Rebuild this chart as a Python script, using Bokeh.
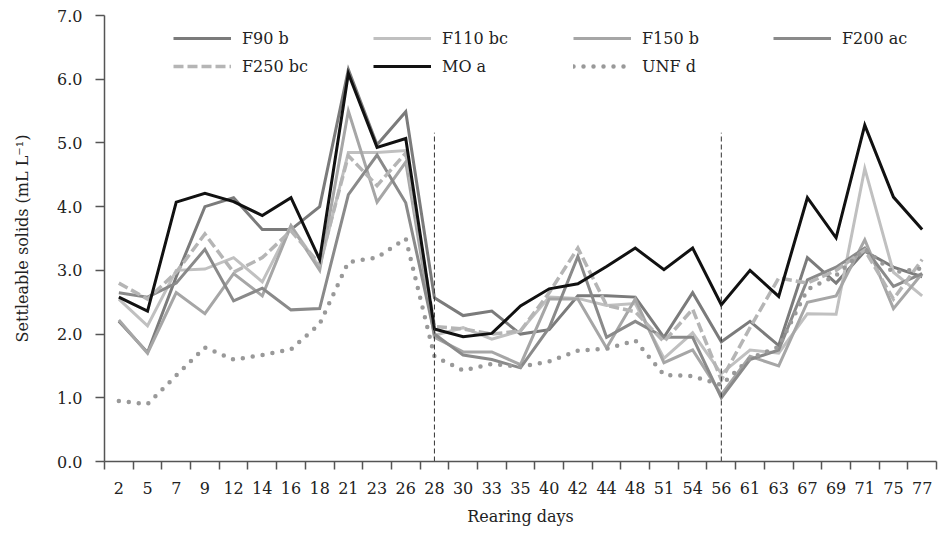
from bokeh.plotting import figure
from bokeh.models import (Range1d, FixedTicker, Legend, LegendItem,
                          CustomJSTickFormatter, NumeralTickFormatter)
from bokeh.embed import file_html
from bokeh.resources import INLINE

days = ["2", "5", "7", "9", "12", "14", "16", "18", "21", "23", "26", "28", "30", "33",
        "35", "40", "42", "44", "48", "51", "54", "56", "61", "63", "67", "69", "71", "75", "77"]

f90 = [2.20, 1.71, 2.90, 4.00, 4.14, 3.64, 3.64, 4.00, 6.15, 4.97, 5.49, 2.57, 2.29, 2.36,
       2.00, 2.07, 2.60, 2.60, 2.58, 1.95, 2.65, 1.88, 2.20, 1.82, 3.20, 2.80, 3.30, 3.05, 2.90]
f110 = [2.55, 2.13, 3.00, 3.02, 3.20, 2.82, 3.70, 3.05, 4.85, 4.85, 4.88, 1.98, 2.10, 1.92,
        2.05, 2.58, 2.56, 2.45, 2.48, 1.62, 2.02, 1.38, 1.75, 1.70, 2.32, 2.31, 4.60, 2.97, 2.60]
f150 = [2.22, 1.70, 2.65, 2.32, 2.95, 2.60, 3.70, 3.00, 5.50, 4.07, 4.70, 1.95, 1.72, 1.72,
        1.52, 2.55, 2.55, 1.78, 2.55, 1.55, 1.75, 1.05, 1.65, 1.50, 2.50, 2.60, 3.48, 2.40, 2.95]
f200 = [2.65, 2.58, 2.80, 3.33, 2.52, 2.72, 2.38, 2.40, 4.19, 4.81, 4.06, 2.00, 1.67, 1.60,
        1.47, 2.10, 3.22, 1.95, 2.20, 1.95, 1.95, 1.00, 1.60, 1.75, 2.85, 3.05, 3.35, 2.75, 2.95]
f250 = [2.80, 2.55, 2.97, 3.57, 2.97, 3.20, 3.62, 3.10, 4.80, 4.33, 4.84, 2.12, 2.08, 2.00,
        2.05, 2.65, 3.35, 2.45, 2.35, 1.88, 2.39, 1.28, 2.10, 2.88, 2.80, 3.00, 3.32, 2.55, 3.17]
mo = [2.58, 2.36, 4.07, 4.21, 4.08, 3.86, 4.14, 3.17, 6.09, 4.93, 5.07, 2.08, 1.96, 2.01,
      2.44, 2.71, 2.79, 3.06, 3.35, 3.01, 3.35, 2.46, 3.00, 2.59, 4.14, 3.51, 5.28, 4.15, 3.64]
unf = [0.95, 0.90, 1.35, 1.79, 1.60, 1.67, 1.76, 2.16, 3.13, 3.20, 3.50, 1.65, 1.43, 1.53,
       1.49, 1.57, 1.74, 1.77, 1.90, 1.36, 1.34, 1.20, 1.62, 1.80, 2.70, 2.92, 3.33, 2.97, 3.03]

labels = ["F90 b", "F110 bc", "F150 b", "F200 ac", "F250 bc", "MO a", "UNF d"]
y_ticks = [0, 1, 2, 3, 4, 5, 6, 7]
divider_days = ["28", "56"]
divider_top = 5.16

FONT = "DejaVu Serif"
n = len(days)
xs = [i + 0.5 for i in range(n)]

p = figure(width=938, height=528, output_backend="svg", toolbar_location=None,
           x_range=Range1d(0, n), y_range=Range1d(0, 7),
           min_border_left=104, min_border_right=2, min_border_top=15, min_border_bottom=65)
p.grid.visible = False
p.outline_line_color = None
p.background_fill_color = "white"

styles = [
    dict(color="#7b7b7b", width=3),
    dict(color="#c0c0c0", width=3),
    dict(color="#a6a6a6", width=3),
    dict(color="#8a8a8a", width=3),
    dict(color="#b5b5b5", width=3.5, dash="10 4"),
    dict(color="#111111", width=3),
    dict(color="#999999", width=4.5, dash="0 10", cap="round"),
]
series = [f90, f110, f150, f200, f250, mo, unf]

items = []
for lab, ys, st in zip(labels, series, styles):
    r = p.line(xs, ys, line_color=st["color"], line_width=st["width"],
               line_dash=st.get("dash", "solid"), line_cap=st.get("cap", "butt"),
               line_join="miter")
    items.append(LegendItem(label=lab, renderers=[r]))

for d in divider_days:
    xi = days.index(d) + 0.5
    p.segment(x0=[xi], y0=[0], x1=[xi], y1=[divider_top], line_color="#333333",
              line_width=1, line_dash="5 3")

legend = Legend(items=items, location=(69, 383), orientation="horizontal", ncols=4,
                glyph_width=58, glyph_height=24, label_width=127, label_standoff=11,
                spacing=4, padding=0, margin=0, border_line_color=None,
                background_fill_alpha=0, label_text_font=FONT, label_text_font_size="16px",
                label_text_color="#222222")
p.add_layout(legend)

# x axis
xa = p.xaxis[0]
xa.ticker = FixedTicker(ticks=xs, minor_ticks=list(range(n + 1)))
xa.formatter = CustomJSTickFormatter(args=dict(labels=days),
                                     code="return labels[Math.floor(tick)];")
xa.major_tick_out = 0
xa.major_tick_in = 0
xa.minor_tick_out = 8
xa.minor_tick_in = 0
xa.axis_label = "Rearing days"

# y axis
ya = p.yaxis[0]
ya.ticker = FixedTicker(ticks=y_ticks)
ya.formatter = NumeralTickFormatter(format="0.0")
ya.major_tick_out = 9
ya.major_tick_in = 0
ya.axis_label = "Settleable solids (mL L\u207b\u00b9)"

for ax in (xa, ya):
    ax.axis_line_color = "#555555"
    ax.axis_line_width = 1.5
    ax.major_tick_line_color = "#555555"
    ax.major_tick_line_width = 1.5
    ax.minor_tick_line_color = "#555555" if ax is xa else None
    ax.minor_tick_line_width = 1.5
    ax.major_label_text_font = FONT
    ax.major_label_text_font_size = "16px"
    ax.major_label_text_color = "#222222"
    ax.axis_label_text_font = FONT
    ax.axis_label_text_font_size = "16px"
    ax.axis_label_text_font_style = "normal"
    ax.axis_label_text_color = "#222222"

xa.major_label_standoff = 12
xa.axis_label_standoff = 10
ya.major_label_standoff = 13
ya.axis_label_standoff = 22

open("out.html", "w").write(file_html(p, INLINE))
